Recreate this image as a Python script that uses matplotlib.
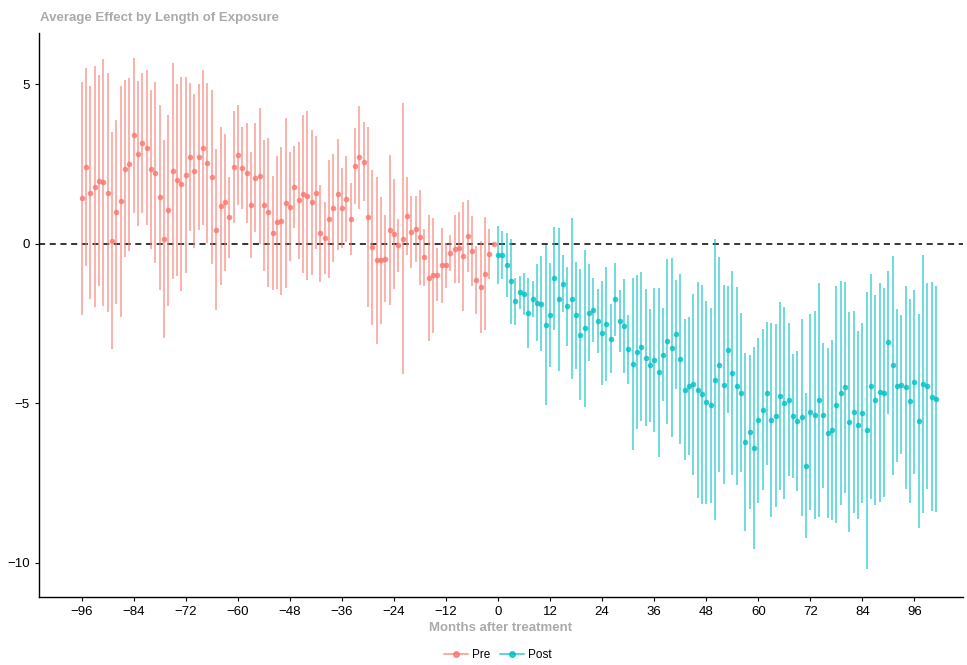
import numpy as np
import matplotlib
matplotlib.use('Agg')
from matplotlib import pyplot as plt
from matplotlib.lines import Line2D

# event time (months), pre: -96..-1 (reference period -1), post: 0..101
pre_x = np.arange(-96, 0)
post_x = np.arange(0, 102)

pre_est = [1.42, 2.40, 1.60, 1.78, 1.97, 1.92, 1.60, 0.09, 1.00, 1.32, 2.35, 2.49, 3.39, 2.82, 3.15, 3.01, 2.33, 2.22, 1.45, 0.14, 1.04, 2.28, 1.99, 1.87, 2.15,
           2.71, 2.27, 2.71, 3.01, 2.52, 2.09, 0.44, 1.18, 1.29, 0.82, 2.41, 2.77, 2.36, 2.22, 1.21, 2.06, 2.12, 1.20, 0.98, 0.33, 0.66, 0.70, 1.27, 1.15,
           1.78, 1.35, 1.56, 1.50, 1.29, 1.60, 0.32, 0.16, 0.76, 1.11, 1.55, 1.11, 1.40, 0.77, 2.43, 2.70, 2.56, 0.83, -0.11, -0.52, -0.52, -0.47, 0.43, 0.30,
           -0.06, 0.15, 0.87, 0.36, 0.46, 0.19, -0.43, -1.08, -0.99, -0.98, -0.68, -0.68, -0.29, -0.18, -0.13, -0.40, 0.24, -0.23, -1.15, -1.37, -0.95, -0.33, 0.0]
pre_se = [3.65, 3.09, 3.35, 3.77, 3.31, 3.88, 3.74, 3.41, 2.88, 3.63, 2.78, 2.71, 2.42, 2.26, 2.19, 2.44, 2.49, 2.84, 2.90, 3.10, 2.99, 3.38, 3.01, 3.35, 3.07,
          2.33, 2.42, 2.28, 2.44, 2.51, 2.73, 2.51, 2.48, 2.15, 1.26, 1.76, 1.56, 1.29, 1.57, 1.67, 1.71, 2.13, 2.06, 2.34, 1.78, 2.08, 2.32, 2.65, 1.71,
          1.29, 1.82, 2.47, 2.65, 2.27, 1.78, 1.53, 1.13, 1.85, 1.69, 1.74, 1.26, 1.35, 1.13, 1.20, 1.62, 1.24, 2.82, 2.43, 2.62, 1.99, 1.36, 2.36, 1.71,
          0.82, 4.25, 1.23, 1.14, 1.03, 1.49, 0.90, 1.96, 1.80, 0.83, 1.17, 0.70, 0.56, 1.07, 1.12, 1.71, 1.12, 1.10, 1.06, 1.44, 1.77, 0.79, 0.0]

post_est = [-0.36, -0.36, -0.68, -1.18, -1.81, -1.53, -1.58, -2.18, -1.74, -1.85, -1.89, -2.55, -2.24, -1.09, -1.75, -1.26, -1.96, -1.73, -2.25, -2.86, -2.66, -2.17, -2.08, -2.43, -2.80,
            -2.53, -2.98, -1.75, -2.43, -2.58, -3.31, -3.78, -3.40, -3.23, -3.58, -3.82, -3.65, -4.04, -3.48, -3.07, -3.27, -2.84, -3.63, -4.58, -4.46, -4.41, -4.59, -4.73, -4.98,
            -5.07, -4.27, -3.80, -4.42, -3.33, -4.06, -4.47, -4.67, -6.22, -5.90, -6.41, -5.54, -5.21, -4.70, -5.53, -5.40, -4.78, -5.01, -4.89, -5.41, -5.57, -5.45, -6.97, -5.28, -5.37, -4.90, -5.39,
            -5.93, -5.85, -5.05, -4.69, -4.50, -5.60, -5.27, -5.69, -5.31, -5.86, -4.47, -4.90, -4.66, -4.68, -3.10, -3.82, -4.45, -4.42, -4.51, -4.93, -4.34, -5.57, -4.40, -4.48, -4.80, -4.88]
post_se = [0.92, 0.75, 1.01, 1.33, 0.74, 0.52, 0.67, 1.11, 0.57, 1.21, 1.49, 2.52, 1.62, 1.61, 2.23, 0.89, 1.24, 2.52, 1.68, 2.06, 2.46, 1.52, 1.01, 1.00, 1.62,
           1.79, 1.09, 1.15, 0.97, 1.47, 1.08, 2.69, 2.41, 2.33, 2.14, 1.77, 2.27, 2.66, 1.47, 2.60, 2.81, 1.71, 2.66, 2.21, 2.17, 2.84, 3.40, 3.43, 3.19,
           3.05, 4.41, 3.37, 3.12, 1.99, 3.21, 3.10, 2.49, 2.79, 2.41, 3.18, 2.59, 2.52, 2.24, 3.05, 2.87, 2.96, 3.01, 2.41, 1.95, 2.19, 3.09, 2.27, 3.08, 3.27, 3.67, 2.26,
           2.66, 2.83, 3.72, 3.52, 3.31, 3.45, 3.17, 2.96, 2.83, 4.34, 3.53, 3.29, 3.43, 3.28, 2.25, 3.42, 2.40, 2.17, 3.19, 3.20, 2.87, 3.35, 4.05, 3.23, 3.58, 3.55]

x_ticks = list(range(-96, 97, 12))
y_ticks = [5, 0, -5, -10]

pre_col = '#F8766D'
post_col = '#00BFC4'
grey = '#AAAAAA'

plt.rcParams['font.family'] = ['Liberation Sans', 'DejaVu Sans']

fig = plt.figure(figsize=(9.67, 6.65), dpi=100)
ax = fig.add_axes([39 / 967, 68 / 665, 924 / 967, 564 / 665])

ax.axhline(0, color='black', lw=1.1, ls=(0, (4, 3)), zorder=1)

for xs, ys, es, c in [(pre_x, pre_est, pre_se, pre_col), (post_x, post_est, post_se, post_col)]:
    ax.errorbar(xs, ys, yerr=es, fmt='none', ecolor=c, elinewidth=1.1, alpha=0.72, zorder=2)
    ax.plot(xs, ys, 'o', color=c, ms=4, mec='none', alpha=0.8, zorder=3)

ax.set_xlim(-105.85, 107.2)
ax.set_ylim(-11.08, 6.6)
ax.set_xticks(x_ticks)
ax.set_yticks(y_ticks)
ax.tick_params(labelsize=9.5, length=3, width=0.8, colors='black')
for s in ['top', 'right']:
    ax.spines[s].set_visible(False)
for s in ['left', 'bottom']:
    ax.spines[s].set_linewidth(1.0)

ax.set_xlabel('Months after treatment', color=grey, fontweight='bold', fontsize=9.5, labelpad=3)
fig.text(40 / 967, 1 - 18 / 665, 'Average Effect by Length of Exposure', color=grey,
         fontweight='bold', fontsize=9.5, ha='left', va='center')

handles = [Line2D([], [], color=pre_col, marker='o', ms=4, lw=1.1, alpha=0.8),
           Line2D([], [], color=post_col, marker='o', ms=4, lw=1.1, alpha=0.8)]
fig.legend(handles, ['Pre', 'Post'], loc='center', bbox_to_anchor=(0.515, 10 / 665), ncol=2,
           frameon=False, fontsize=8.5, handlelength=2, columnspacing=0.8, handletextpad=0.4)

fig.savefig('out.png', dpi=100)
